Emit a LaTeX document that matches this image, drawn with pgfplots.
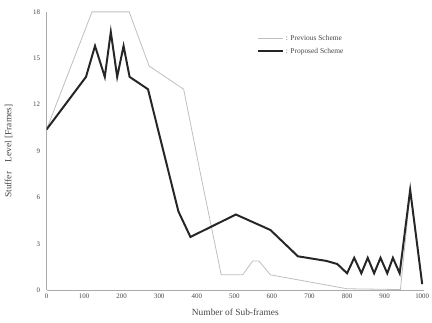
\documentclass[border=0pt]{standalone}
\usepackage{pgfplots}
\pgfplotsset{compat=1.18}
\usepackage{fontspec}
\setmainfont{Liberation Serif}
\definecolor{prevgray}{RGB}{190,190,190}
\definecolor{axgray}{RGB}{170,170,170}
\definecolor{txtgray}{RGB}{70,70,70}
\begin{document}
\begin{tikzpicture}
\begin{axis}[
  scale only axis,
  width=381pt, height=281pt,
  xmin=0, xmax=1005, ymin=0, ymax=18,
  axis x line*=bottom, axis y line*=left,
  axis line style={axgray, line width=0.8pt, -},
  xtick={0,100,...,1000}, ytick={0,3,...,18},
  tick style={draw=none},
  tick label style={font=\fontsize{7}{8}\selectfont, text=txtgray},
  yticklabel style={xshift=-3pt},
  /pgf/number format/assume math mode=true,
  /pgf/number format/1000 sep={},
  xlabel={Number of Sub-frames},
  ylabel={Stuffer\quad Level [Frames]},
  label style={font=\fontsize{9.5}{10}\selectfont, text=txtgray},
  xlabel style={at={(axis description cs:0.5,-0.08)}, anchor=center},
  ylabel style={at={(axis description cs:-0.1,0.5)}, anchor=center},
  legend style={draw=none, fill=none, at={(0.548,0.93)}, anchor=north west,
    font=\fontsize{7.5}{8}\selectfont, text=txtgray, row sep=2pt},
  legend cell align=left,
  legend image post style={xscale=1.5},
]
\addplot[prevgray, line width=0.8pt] coordinates {
(0,10.4) (121,18) (220,18) (273,14.5) (365,13.0) (410,7.5) (465,1.0) (522,1.0) (549,1.9) (565,1.9) (596,1.0) (800,0.1) (942,0.05) (968,6.3) (1000,0.4)
};
\addlegendentry{: Previous Scheme}
\addplot[black!85, line width=2pt] coordinates {
(0,10.4) (105,13.8) (129,15.8) (155,13.8) (171,16.7) (188,13.8) (205,15.8) (221,13.8) (270,13.0) (351,5.1) (383,3.45) (504,4.9) (596,3.9) (669,2.2) (745,1.9) (774,1.7) (800,1.1) (819,2.1) (838,1.1) (855,2.1) (872,1.1) (889,2.1) (907,1.1) (922,2.1) (940,1.1) (968,6.5) (1000,0.4)
};
\addlegendentry{: Proposed Scheme}
\end{axis}
\pgfresetboundingbox
\useasboundingbox (-47pt,-32pt) rectangle (389pt,293pt);
\end{tikzpicture}
\end{document}
